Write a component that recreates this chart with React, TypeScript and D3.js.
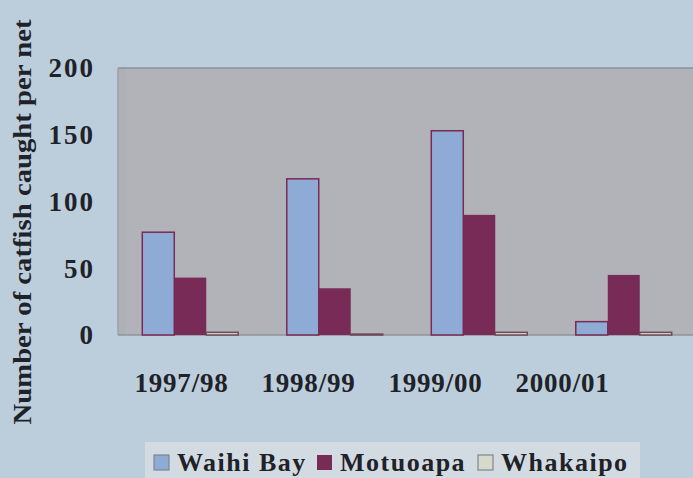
import React from "react";
import * as d3 from "d3";

const categories = ["1997/98", "1998/99", "1999/00", "2000/01"];
const seriesNames = ["Waihi Bay", "Motuoapa", "Whakaipo"];
const waihiBay = [77, 117, 153, 10];
const motuoapa = [43, 35, 90, 45];
const whakaipo = [2, 0.7, 2, 2];
const yTicks = [0, 50, 100, 150, 200];

const W = 693;
const H = 478;
const colors = ["#8eabd5", "#772b56", "#d6dacb"];
const strokes = ["#7a2a55", "none", "#6e4a5a"];

export default function App() {
  const plot = { left: 118, right: 696, top: 68, bottom: 335 };
  const x = d3
    .scaleBand<string>()
    .domain(categories)
    .range([plot.left, plot.right])
    .paddingInner(0.336)
    .paddingOuter(0.168);
  const xs = d3.scaleBand<string>().domain(seriesNames).range([0, x.bandwidth()]);
  const xl = d3.scaleBand<string>().domain(categories).range([118, 626]);
  const y = d3.scaleLinear().domain([0, 200]).range([plot.bottom, plot.top]);
  const series = [waihiBay, motuoapa, whakaipo];
  const font = "'Liberation Serif', 'DejaVu Serif', serif";

  const legendX = d3.scaleOrdinal<string, number>().domain(seriesNames).range([154, 317, 478]);

  return (
    <svg
      width={W}
      height={H}
      style={{ position: "absolute", left: 0, top: 0, display: "block" }}
      fontFamily={font}
    >
      <rect x={0} y={0} width={W} height={H} fill="#bccedb" />
      {/* plot wall */}
      <rect x={plot.left} y={plot.top} width={plot.right - plot.left} height={plot.bottom - plot.top} fill="#b1b3b8" />
      <rect x={plot.left} y={plot.top} width={8} height={plot.bottom - plot.top} fill="#adb0b6" />
      <line x1={plot.left} x2={plot.right} y1={plot.top} y2={plot.top} stroke="#8d9196" strokeWidth={1.5} />
      <line x1={plot.left} x2={plot.left} y1={plot.top} y2={plot.bottom} stroke="#9ea3a9" strokeWidth={1.5} />
      <line x1={plot.left} x2={plot.right} y1={plot.bottom} y2={plot.bottom} stroke="#8e949a" strokeWidth={1.5} />

      {/* bars */}
      {categories.map((c, i) =>
        series.map((vals, s) => {
          const bx = (x(c) ?? 0) + (xs(seriesNames[s]) ?? 0);
          const by = y(vals[i]);
          return (
            <rect
              key={c + s}
              x={bx}
              y={by}
              width={xs.bandwidth()}
              height={y(0) - by}
              fill={colors[s]}
              stroke={strokes[s]}
              strokeWidth={s === 1 ? 0 : 1.5}
            />
          );
        })
      )}

      {/* y ticks */}
      {yTicks.map((t) => (
        <text
          key={t}
          x={95}
          y={y(t)}
          dy="0.35em"
          textAnchor="end"
          fontSize={27}
          fontWeight="bold"
          fill="#1f2228"
          letterSpacing={2}
        >
          {t}
        </text>
      ))}

      {/* x labels */}
      {categories.map((c) => (
        <text
          key={c}
          x={(xl(c) ?? 0) + xl.bandwidth() / 2}
          y={383}
          dy="0.35em"
          textAnchor="middle"
          fontSize={27}
          fontWeight="bold"
          fill="#1f2228"
          letterSpacing={0.8}
        >
          {c}
        </text>
      ))}

      {/* y title */}
      <text
        transform="translate(31,222) rotate(-90)"
        textAnchor="middle"
        fontSize={26}
        fontWeight="bold"
        fill="#1f2228"
        textLength={405}
        lengthAdjust="spacingAndGlyphs"
      >
        Number of catfish caught per net
      </text>

      {/* legend */}
      <rect x={145} y={442} width={495} height={40} fill="#d3dbe2" />
      {seriesNames.map((n, s) => (
        <g key={n}>
          <rect
            x={legendX(n)}
            y={455}
            width={15}
            height={15}
            fill={colors[s]}
            stroke={s === 1 ? "none" : "#7d8590"}
            strokeWidth={1.2}
          />
          <text
            x={legendX(n) + 23}
            y={471}
            fontSize={26}
            fontWeight="bold"
            fill="#1f2228"
            letterSpacing={1.5}
          >
            {n}
          </text>
        </g>
      ))}
    </svg>
  );
}
